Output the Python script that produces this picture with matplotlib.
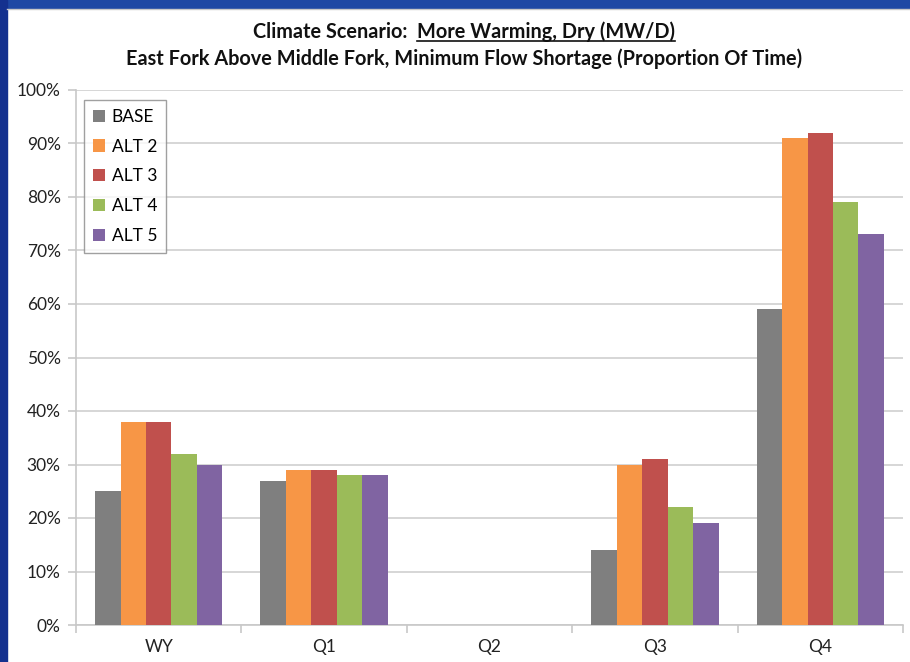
import matplotlib
matplotlib.use("Agg")
import matplotlib.pyplot as plt
import numpy as np
from matplotlib.patches import Rectangle
from matplotlib.lines import Line2D

categories = ["WY", "Q1", "Q2", "Q3", "Q4"]
series_names = ["BASE", "ALT 2", "ALT 3", "ALT 4", "ALT 5"]
base = [25, 27, 0, 14, 59]
alt2 = [38, 29, 0, 30, 91]
alt3 = [38, 29, 0, 31, 92]
alt4 = [32, 28, 0, 22, 79]
alt5 = [30, 28, 0, 19, 73]
series_values = [base, alt2, alt3, alt4, alt5]
colors = ["#7F7F7F", "#F79646", "#C0504D", "#9BBB59", "#8064A2"]
yticks = [0, 10, 20, 30, 40, 50, 60, 70, 80, 90, 100]
ytick_labels = [f"{v}%" for v in yticks]

plt.rcParams["font.family"] = ["Lato", "DejaVu Sans"]

W, H = 910, 662
fig = plt.figure(figsize=(W / 100, H / 100), dpi=100)

# slide frame: blue band on top and left edge
fig.patches.append(Rectangle((0, 1 - 8 / H), 1, 8 / H, transform=fig.transFigure,
                             color="#1E48A4", zorder=0))
fig.patches.append(Rectangle((0, 0), 7 / W, 1, transform=fig.transFigure,
                             color="#14318F", zorder=0))
fig.lines.append(Line2D([7 / W, 1], [1 - 9 / H, 1 - 9 / H], transform=fig.transFigure,
                        color="#C8C8C8", lw=1.0))

ax = fig.add_axes([76 / W, 1 - 625 / H, (903 - 76) / W, (625 - 90) / H])

n = len(series_names)
gap = 1.5
bw = 1.0 / (n + gap)
x = np.arange(len(categories))
for i, (name, vals, c) in enumerate(zip(series_names, series_values, colors)):
    offs = (i - (n - 1) / 2) * bw
    ax.bar(x + offs, vals, width=bw, color=c, label=name, zorder=3)

ax.set_xlim(-0.5, len(categories) - 0.5)
ax.set_ylim(0, 100)
ax.set_yticks(yticks)
ax.set_yticklabels(ytick_labels, fontsize=12.5, color="#222222")
ax.yaxis.grid(True, color="#D0D0D0", lw=1.2, zorder=0)
ax.set_axisbelow(True)

ax.set_xticks(x)
ax.set_xticklabels(categories, fontsize=12.5, color="#222222")
ax.tick_params(axis="x", length=0, pad=10)
ax.set_xticks(np.arange(len(categories) + 1) - 0.5, minor=True)
ax.tick_params(axis="x", which="minor", length=6, color="#C8C8C8", width=1.2)
ax.tick_params(axis="y", length=6, color="#C8C8C8", width=1.2, pad=5)

for s in ["top", "right"]:
    ax.spines[s].set_visible(False)
ax.spines["left"].set_color("#C8C8C8")
ax.spines["bottom"].set_color("#C8C8C8")
ax.spines["left"].set_linewidth(1.2)
ax.spines["bottom"].set_linewidth(1.2)

leg = ax.legend(loc="upper left", bbox_to_anchor=(8 / 827, 1 - 10 / 535), fontsize=12.5,
                frameon=True, fancybox=False, edgecolor="#888888", handlelength=0.7,
                handleheight=0.7, handletextpad=0.4, labelspacing=0.8,
                borderpad=0.5, borderaxespad=0)
leg.get_frame().set_linewidth(1.0)

# title: two lines, part of the first one underlined
fig.canvas.draw()
renderer = fig.canvas.get_renderer()
cx = 464 / W
fs = 14.3
t1a = fig.text(0, 1 - 32 / H, "Climate Scenario:  ", fontsize=fs, fontweight="bold",
               va="center", ha="left", color="#111111")
t1b = fig.text(0, 1 - 32 / H, "More Warming, Dry (MW/D)", fontsize=fs, fontweight="bold",
               va="center", ha="left", color="#111111")
wa = t1a.get_window_extent(renderer).width / W
wb = t1b.get_window_extent(renderer).width / W
x0 = cx - (wa + wb) / 2
t1a.set_x(x0)
t1b.set_x(x0 + wa)
bb = t1b.get_window_extent(renderer)
uy = (bb.y0 + 1) / H
fig.lines.append(Line2D([x0 + wa, x0 + wa + wb], [uy, uy], transform=fig.transFigure,
                        color="#111111", lw=1.2))
fig.text(cx, 1 - 59 / H,
         "East Fork Above Middle Fork, Minimum Flow Shortage (Proportion Of Time)",
         fontsize=fs, fontweight="bold", va="center", ha="center", color="#111111")

fig.savefig("out.png", dpi=100)
